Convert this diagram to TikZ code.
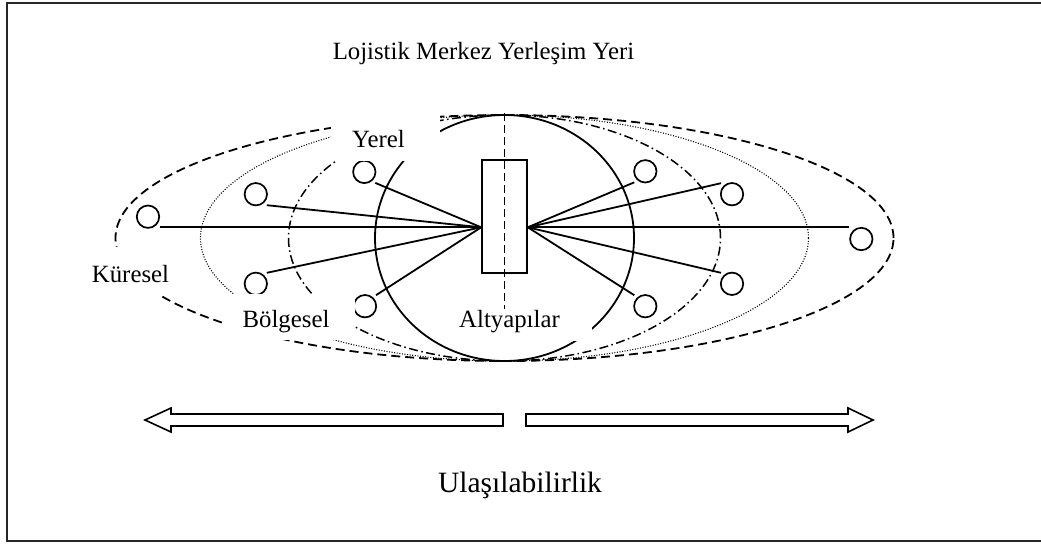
\documentclass[tikz,border=0pt]{standalone}
\usepackage{fontspec}
\setmainfont{Liberation Serif}
\usetikzlibrary{calc}
\begin{document}
\begin{tikzpicture}[x=1pt,y=-1pt,
  frame/.style={draw=black!85, line width=2pt},
  conn/.style={line width=1.8pt},
  dotnode/.style={circle, draw, line width=1.7pt, minimum size=22.4pt, inner sep=0pt},
  lbl/.style={anchor=base, inner sep=0pt, font=\fontsize{24.8}{29}\selectfont},
  glob/.style={line width=1.8pt, dash pattern=on 9pt off 5pt},
  regn/.style={line width=1.1pt, dash pattern=on 1pt off 1.6pt},
  locl/.style={line width=1.5pt, dash pattern=on 9pt off 3.5pt on 1.5pt off 3.5pt},
  mask/.style={fill=white},
  bigarrow/.style={draw, line width=1.6pt, fill=white, line join=miter}
]
\useasboundingbox (0,0) rectangle (1041,544);
\clip (0,0) rectangle (1041,544);
\draw[frame] (7,3) rectangle (1060,541);

% zones
\coordinate (c) at (504.5,238);
\draw[glob] (c) ellipse [x radius=389pt, y radius=123pt];
\draw[regn] (c) ellipse [x radius=304pt, y radius=123pt];
\draw[locl] (c) ellipse [x radius=216pt, y radius=123pt];
\draw[conn] (c) ellipse [x radius=129.5pt, y radius=123pt];
\coordinate (vt) at (504.5,113);
\coordinate (vb) at (504.5,310);
\draw[conn, dash pattern=on 8pt off 4pt] (vt) -- (vb);

% hub
\node[draw, line width=1.6pt, minimum width=45pt, minimum height=113pt, inner sep=0pt] (hub) at (504.5,216.5) {};
\coordinate (hl) at ($(hub.west)+(0,10.8)$);
\coordinate (hr) at ($(hub.east)+(0,10.8)$);

% places
\node[dotnode] (kl)  at (148,216.7) {};
\node[dotnode] (bl1) at (255.8,194.2) {};
\node[dotnode] (bl2) at (255.8,283.8) {};
\node[dotnode] (yl1) at (364.3,171.9) {};
\node[dotnode] (yl2) at (365,306.2) {};
\node[dotnode] (yr1) at (645.3,171.3) {};
\node[dotnode] (br1) at (732,194.2) {};
\node[dotnode] (kr)  at (861.3,239) {};
\node[dotnode] (br2) at (732,283.8) {};
\node[dotnode] (yr2) at (645.3,306.2) {};

% connectors
\draw[conn] (hl) -- (hl -| kl.east);
\draw[conn] (hl) -- ($(bl1)+(11,11)$);
\draw[conn] (hl) -- ($(bl2)+(11,-11)$);
\draw[conn] (hl) -- ($(yl1)+(11,11)$);
\draw[conn] (hl) -- ($(yl2)+(11,-11)$);
\draw[conn] (hr) -- (hr -| kr.west);
\draw[conn] (hr) -- ($(yr1)+(-11,11)$);
\draw[conn] (hr) -- ($(br1)+(-11,-11)$);
\draw[conn] (hr) -- ($(br2)+(-11,-11)$);
\draw[conn] (hr) -- ($(yr2)+(-11,-11)$);

% label backgrounds
\fill[mask] (331,105) rectangle (440,161);
\fill[mask] (80,247) rectangle (198,295);
\fill[mask] (224,293.5) rectangle (355,340);
\fill[mask] (452,309) rectangle (592,341);

% labels
\node[lbl] (tit) at (483.5,59.3) {Lojistik Merkez Yerleşim Yeri};
\node[lbl] (kur) at (130.5,282.7) {Küresel};
\node[lbl] (bol) at (286,327) {Bölgesel};
\node[lbl] (yer) at (378.5,147) {Yerel};
\node[lbl] (alt) at (509.5,327.3) {Altyapılar};
\node[lbl, font=\fontsize{29.5}{34}\selectfont] (ula) at (520,492) {Ulaşılabilirlik};

% accessibility arrows
\draw[bigarrow] (503,414) -- (171,414) -- (171,408) -- (145,420) -- (171,432) -- (171,426) -- (503,426) -- cycle;
\draw[bigarrow] (526,414) -- (848,414) -- (848,408) -- (873,420) -- (848,432) -- (848,426) -- (526,426) -- cycle;
\end{tikzpicture}
\end{document}
